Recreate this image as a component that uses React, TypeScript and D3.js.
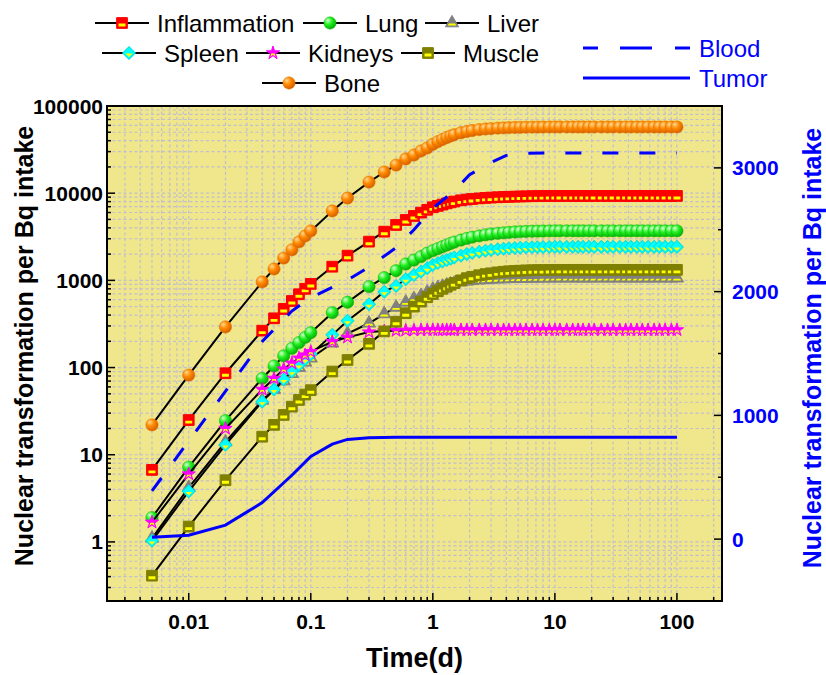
import React, { useRef, useEffect } from "react";
import * as d3 from "d3";

const WIDTH = 826;
const HEIGHT = 675;
const MARGIN = { top: 106, right: 104, bottom: 74, left: 107 };
const FONT = "'Liberation Sans', Arial, Helvetica, sans-serif";

// sampling times (d), shared by the organ series
const TIMES = [
  0.005, 0.01, 0.02, 0.04, 0.05, 0.06, 0.07, 0.08, 0.09, 0.1, 0.15, 0.2, 0.3, 0.4, 0.5, 0.6, 0.7, 0.8, 0.9, 1,
  1.1, 1.2, 1.3, 1.4, 1.5, 1.7, 1.9, 2.1, 2.4, 2.7, 3, 3.4, 3.8, 4.2, 4.7, 5.2, 5.8, 6.5, 7.2, 8, 9,
  10, 11, 12.5, 14, 15.5, 17, 19, 21, 24, 27, 30, 34, 38, 42, 47, 52, 58, 65, 72, 80, 90, 100,
];

const INFLAMMATION = [
  6.7, 25, 86, 265, 367, 470, 580, 693, 800, 910, 1435, 1920, 2780, 3620, 4320, 4930, 5480, 5980, 6450, 6890,
  7150, 7400, 7640, 7850, 8020, 8280, 8450, 8580, 8720, 8830, 8910, 8980, 9040, 9090, 9130, 9170, 9200, 9230, 9250, 9270, 9280,
  9300, 9300, 9300, 9300, 9300, 9300, 9300, 9300, 9300, 9300, 9300, 9300, 9300, 9300, 9300, 9300, 9300, 9300, 9300, 9300, 9300, 9300,
];
const LUNG = [
  1.9, 7.2, 24.6, 75, 104, 136, 166, 193, 222, 251, 426, 561, 847, 1075, 1290, 1540, 1710, 1870, 2050, 2190,
  2310, 2430, 2540, 2650, 2750, 2900, 3030, 3130, 3240, 3330, 3400, 3460, 3510, 3550, 3590, 3620, 3640, 3660, 3670, 3680, 3690,
  3700, 3700, 3700, 3700, 3700, 3700, 3700, 3700, 3700, 3700, 3700, 3700, 3700, 3700, 3700, 3700, 3700, 3700, 3700, 3700, 3700, 3700,
];
const LIVER = [
  1.1, 4.2, 14, 42, 56, 70, 85, 100, 115, 128, 190, 245, 322, 412, 490, 560, 615, 665, 730, 790,
  825, 855, 883, 905, 925, 955, 975, 990, 1005, 1015, 1025, 1032, 1038, 1042, 1046, 1050, 1052, 1054, 1056, 1058, 1059,
  1060, 1060, 1060, 1060, 1060, 1060, 1060, 1060, 1060, 1060, 1060, 1060, 1060, 1060, 1060, 1060, 1060, 1060, 1060, 1060, 1060, 1060,
];
const SPLEEN = [
  1.03, 3.8, 13, 40.6, 56, 73, 90, 107, 125, 142, 237, 345, 532, 742, 862, 1030, 1150, 1260, 1380, 1500,
  1580, 1650, 1710, 1770, 1830, 1920, 2000, 2060, 2130, 2190, 2230, 2270, 2310, 2330, 2350, 2370, 2385, 2395, 2400, 2405, 2410,
  2420, 2420, 2420, 2420, 2420, 2420, 2420, 2420, 2420, 2420, 2420, 2420, 2420, 2420, 2420, 2420, 2420, 2420, 2420, 2420, 2420, 2420,
];
const KIDNEYS = [
  1.68, 6.0, 20, 56, 75, 96, 112, 128, 139, 152, 198, 222, 255, 262, 265, 267, 268, 269, 270, 270,
  270, 270, 270, 270, 270, 270, 270, 270, 270, 270, 270, 270, 270, 270, 270, 270, 270, 270, 270, 270, 270,
  270, 270, 270, 270, 270, 270, 270, 270, 270, 270, 270, 270, 270, 270, 270, 270, 270, 270, 270, 270, 270, 270,
];
const MUSCLE = [
  0.41, 1.5, 5.1, 16.1, 22, 28.6, 35.6, 42.5, 49, 55, 90, 122, 187, 260, 335, 420, 500, 570, 640, 698,
  750, 800, 845, 890, 930, 1000, 1060, 1100, 1145, 1180, 1205, 1235, 1255, 1270, 1283, 1292, 1300, 1306, 1310, 1313, 1316,
  1320, 1320, 1320, 1320, 1320, 1320, 1320, 1320, 1320, 1320, 1320, 1320, 1320, 1320, 1320, 1320, 1320, 1320, 1320, 1320, 1320, 1320,
];
const BONE = [
  22, 82, 292, 960, 1350, 1800, 2240, 2760, 3230, 3690, 6250, 8800, 13400, 17500, 21000, 24700, 27400, 30500, 33000, 36400,
  39000, 41300, 43500, 45300, 46800, 49300, 51000, 52300, 53600, 54500, 55100, 55700, 56100, 56400, 56700, 56900, 57100, 57200, 57300, 57400, 57450,
  57500, 57500, 57500, 57500, 57500, 57500, 57500, 57500, 57500, 57500, 57500, 57500, 57500, 57500, 57500, 57500, 57500, 57500, 57500, 57500, 57500, 57500,
];

// right (linear) axis series
const BLOOD_TIMES = [0.005, 0.04, 0.07, 0.1, 0.2, 0.3, 0.5, 0.7, 1, 1.5, 2, 3, 4, 5, 10, 20, 50, 100];
const BLOOD = [390, 1597, 1843, 1952, 2093, 2199, 2355, 2500, 2673, 2815, 2944, 3044, 3101, 3118, 3120, 3120, 3120, 3120];
const TUMOR_TIMES = [0.005, 0.01, 0.02, 0.04, 0.07, 0.1, 0.15, 0.2, 0.3, 0.5, 1, 2, 5, 10, 20, 50, 100];
const TUMOR = [16, 32, 113, 295, 516, 669, 768, 806, 819, 823, 823, 823, 823, 823, 823, 823, 823];

const X_LABELS = [0.01, 0.1, 1, 10, 100];
const Y_LEFT_LABELS = [1, 10, 100, 1000, 10000, 100000];
const Y_RIGHT_LABELS = [0, 1000, 2000, 3000];

const BLUE = "#0000ff";
const YELLOW = "#ffff00";

const SERIES = [
  { key: "inflammation", name: "Inflammation", values: INFLAMMATION, shape: d3.symbolSquare, size: 115, fill: "#ff0000", stroke: "#ff0000", half: true, legend: [95, 23] },
  { key: "lung", name: "Lung", values: LUNG, shape: d3.symbolCircle, size: 120, fill: "url(#ball-lung)", stroke: "#10b010", ball: true, legend: [303, 23] },
  { key: "liver", name: "Liver", values: LIVER, shape: d3.symbolTriangle, size: 75, fill: "#808080", stroke: "#808080", half: true, legend: [425, 23] },
  { key: "spleen", name: "Spleen", values: SPLEEN, shape: d3.symbolSquare, size: 80, rotate: 45, fill: "#00ffff", stroke: "#00e0e0", half: true, legend: [102, 53] },
  { key: "kidneys", name: "Kidneys", values: KIDNEYS, shape: d3.symbolStar, size: 55, fill: "#ff00ff", stroke: "#ff00ff", half: true, legend: [246, 53] },
  { key: "muscle", name: "Muscle", values: MUSCLE, shape: d3.symbolSquare, size: 115, fill: "#808000", stroke: "#808000", half: true, legend: [401, 53] },
  { key: "bone", name: "Bone", values: BONE, shape: d3.symbolCircle, size: 120, fill: "url(#ball-bone)", stroke: "#e07000", ball: true, legend: [262, 83] },
];

function drawMarker(parent, s, cx, cy) {
  const g = parent.append("g").attr("transform", `translate(${cx},${cy})`);
  const rot = s.rotate ? `rotate(${s.rotate})` : null;
  g.append("path")
    .attr("d", d3.symbol().type(s.shape).size(s.size)())
    .attr("transform", rot)
    .attr("fill", s.fill)
    .attr("stroke", s.stroke)
    .attr("stroke-width", s.ball ? 0.5 : 1);
  if (s.half) {
    g.append("g")
      .attr("clip-path", "url(#lower-half)")
      .append("path")
      .attr("d", d3.symbol().type(s.shape).size(s.size * 0.42)())
      .attr("transform", rot)
      .attr("fill", YELLOW);
  }
}

export default function App() {
  const ref = useRef(null);

  useEffect(() => {
    document.body.style.margin = "0";
    const svg = d3.select(ref.current);
    svg.selectAll("*").remove();

    const innerW = WIDTH - MARGIN.left - MARGIN.right;
    const innerH = HEIGHT - MARGIN.top - MARGIN.bottom;

    const x = d3.scaleLog().domain([0.00214, 234]).range([0, innerW]);
    const y = d3.scaleLog().domain([0.21, 100000]).range([innerH, 0]);
    const yR = d3.scaleLinear().domain([-500, 3500]).range([innerH, 0]);
    const isDecade = (v) => Math.abs(Math.log10(v) - Math.round(Math.log10(v))) < 1e-6;

    const defs = svg.append("defs");
    const balls = [
      ["ball-lung", "#d8ffd0", "#22f022", "#00a800"],
      ["ball-bone", "#ffd890", "#ff8a00", "#d25800"],
    ];
    balls.forEach(([id, hi, mid, lo]) => {
      const gr = defs.append("radialGradient").attr("id", id)
        .attr("cx", "0.38").attr("cy", "0.36").attr("r", "0.7").attr("fx", "0.32").attr("fy", "0.28");
      gr.append("stop").attr("offset", "0").attr("stop-color", hi);
      gr.append("stop").attr("offset", "0.45").attr("stop-color", mid);
      gr.append("stop").attr("offset", "1").attr("stop-color", lo);
    });
    defs.append("clipPath").attr("id", "lower-half")
      .append("rect").attr("x", -12).attr("y", 0.6).attr("width", 24).attr("height", 12);

    const plot = svg.append("g").attr("transform", `translate(${MARGIN.left},${MARGIN.top})`);
    plot.append("rect").attr("width", innerW).attr("height", innerH).attr("fill", "#f0e68c");

    // grid
    const grid = plot.append("g").attr("stroke", "#c0c0cc").attr("stroke-width", 1.2).attr("stroke-dasharray", "3 2.5");
    x.ticks().forEach((t) => {
      grid.append("line").attr("x1", x(t)).attr("x2", x(t)).attr("y1", 0).attr("y2", innerH);
    });
    y.ticks().forEach((t) => {
      grid.append("line").attr("x1", 0).attr("x2", innerW).attr("y1", y(t)).attr("y2", y(t));
    });

    // organ series
    const line = d3.line().x((d) => x(d[0])).y((d) => y(d[1]));
    SERIES.forEach((s) => {
      const pts = TIMES.map((t, i) => [t, s.values[i]]);
      const g = plot.append("g");
      g.append("path").attr("d", line(pts)).attr("fill", "none").attr("stroke", "#000").attr("stroke-width", 2);
      pts.forEach((p) => drawMarker(g, s, x(p[0]), y(p[1])));
    });

    // blood / tumor on right axis
    const lineR = d3.line().x((d) => x(d[0])).y((d) => yR(d[1]));
    plot.append("path")
      .attr("d", lineR(BLOOD_TIMES.map((t, i) => [t, BLOOD[i]])))
      .attr("fill", "none").attr("stroke", BLUE).attr("stroke-width", 3).attr("stroke-dasharray", "16 21");
    plot.append("path")
      .attr("d", lineR(TUMOR_TIMES.map((t, i) => [t, TUMOR[i]])))
      .attr("fill", "none").attr("stroke", BLUE).attr("stroke-width", 3);

    // frame
    plot.append("rect").attr("width", innerW).attr("height", innerH)
      .attr("fill", "none").attr("stroke", "#000").attr("stroke-width", 2);

    // ticks (inward)
    const ticks = plot.append("g").attr("stroke", "#000").attr("stroke-width", 1.5);
    x.ticks().forEach((t) => {
      const len = isDecade(t) ? 8 : 4;
      ticks.append("line").attr("x1", x(t)).attr("x2", x(t)).attr("y1", innerH).attr("y2", innerH - len);
    });
    y.ticks().forEach((t) => {
      const len = isDecade(t) ? 8 : 4;
      ticks.append("line").attr("x1", 0).attr("x2", len).attr("y1", y(t)).attr("y2", y(t));
    });
    yR.ticks(8).forEach((t) => {
      const len = t % 1000 === 0 ? 8 : 4;
      ticks.append("line").attr("x1", innerW).attr("x2", innerW - len).attr("y1", yR(t)).attr("y2", yR(t));
    });

    // tick labels
    X_LABELS.forEach((t) => {
      plot.append("text").attr("x", x(t)).attr("y", innerH + 28)
        .attr("text-anchor", "middle").attr("font-family", FONT).attr("font-weight", "bold")
        .attr("font-size", 21).text(String(t));
    });
    Y_LEFT_LABELS.forEach((t) => {
      plot.append("text").attr("x", -4).attr("y", y(t)).attr("dy", "0.36em")
        .attr("text-anchor", "end").attr("font-family", FONT).attr("font-weight", "bold")
        .attr("font-size", 21).text(String(t));
    });
    Y_RIGHT_LABELS.forEach((t) => {
      plot.append("text").attr("x", innerW + 10).attr("y", yR(t)).attr("dy", "0.36em")
        .attr("text-anchor", "start").attr("font-family", FONT).attr("font-weight", "bold")
        .attr("font-size", 21).attr("fill", BLUE).text(String(t));
    });

    // axis titles
    svg.append("text").attr("x", MARGIN.left + innerW / 2).attr("y", 667)
      .attr("text-anchor", "middle").attr("font-family", FONT).attr("font-weight", "bold")
      .attr("font-size", 27).text("Time(d)");
    svg.append("text").attr("transform", "translate(33,346) rotate(-90)")
      .attr("text-anchor", "middle").attr("font-family", FONT).attr("font-weight", "bold")
      .attr("font-size", 25).text("Nuclear transformation per Bq intake");
    svg.append("text").attr("transform", "translate(821,348) rotate(-90)")
      .attr("text-anchor", "middle").attr("font-family", FONT).attr("font-weight", "bold")
      .attr("font-size", 25).attr("fill", BLUE).text("Nuclear transformation per Bq intake");

    // legend
    const legend = svg.append("g");
    SERIES.forEach((s) => {
      const [lx, ly] = s.legend;
      legend.append("line").attr("x1", lx).attr("x2", lx + 54).attr("y1", ly).attr("y2", ly)
        .attr("stroke", "#000").attr("stroke-width", 2);
      drawMarker(legend, s, lx + 27, ly);
      legend.append("text").attr("x", lx + 62).attr("y", ly).attr("dy", "0.36em")
        .attr("font-family", FONT).attr("font-size", 24).text(s.name);
    });
    legend.append("line").attr("x1", 583).attr("x2", 690).attr("y1", 48).attr("y2", 48)
      .attr("stroke", BLUE).attr("stroke-width", 3).attr("stroke-dasharray", "15 22 32 23 15 40");
    legend.append("text").attr("x", 699).attr("y", 48).attr("dy", "0.36em")
      .attr("font-family", FONT).attr("font-size", 24).attr("fill", BLUE).text("Blood");
    legend.append("line").attr("x1", 583).attr("x2", 690).attr("y1", 78).attr("y2", 78)
      .attr("stroke", BLUE).attr("stroke-width", 3);
    legend.append("text").attr("x", 699).attr("y", 78).attr("dy", "0.36em")
      .attr("font-family", FONT).attr("font-size", 24).attr("fill", BLUE).text("Tumor");
  }, []);

  return <svg ref={ref} width={WIDTH} height={HEIGHT} style={{ display: "block" }} />;
}
